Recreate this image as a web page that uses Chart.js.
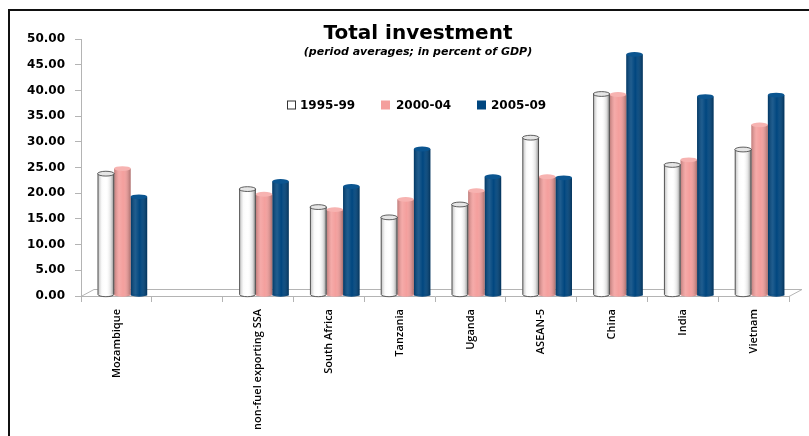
<!DOCTYPE html>
<html>
<head>
<meta charset="utf-8">
<script src="https://cdn.jsdelivr.net/npm/chart.js@4.4.1/dist/chart.umd.min.js"></script>
<style>
  html, body { margin: 0; padding: 0; background: #fff; }
  #chart { display: block; }
</style>
</head>
<body>
<canvas id="chart" width="809" height="436"></canvas>
<script>
const categories = [
  "Mozambique", "", "non-fuel exporting SSA", "South Africa", "Tanzania",
  "Uganda", "ASEAN-5", "China", "India", "Vietnam"
];
const seriesNames = ["1995-99", "2000-04", "2005-09"];
const avg1995 = [23.8, null, 20.8, 17.3, 15.3, 17.8, 30.8, 39.3, 25.5, 28.5];
const avg2000 = [24.8, null, 19.8, 16.8, 18.8, 20.5, 23.2, 39.2, 26.5, 33.3];
const avg2005 = [19.3, null, 22.3, 21.3, 28.6, 23.2, 23.0, 47.0, 38.8, 39.1];
const yTicks = [0, 5, 10, 15, 20, 25, 30, 35, 40, 45, 50];

const fills = ["#ffffff", "#f49f9d", "#00467f"];
const tops = ["#e6e6e6", "#f7b3b1", "#0b5590"];
const shiftX = 6; // bars sit slightly right of the category centre (3d depth)

const ctx = document.getElementById("chart").getContext("2d");

// floor, cylinder shading, frame, title and legend
const decor = {
  id: "decor",
  beforeDatasetsDraw(chart) {
    const { ctx, chartArea: a } = chart;
    ctx.save();
    ctx.strokeStyle = "#b4b4b4";
    ctx.lineWidth = 1;
    ctx.beginPath();
    ctx.moveTo(a.left, a.bottom + 0.5);
    ctx.lineTo(a.left + 13, a.bottom - 6.5);
    ctx.lineTo(a.right + 13, a.bottom - 6.5);
    ctx.lineTo(a.right, a.bottom + 0.5);
    ctx.stroke();
    ctx.restore();
    ctx.save();
    ctx.translate(shiftX, 0);
  },
  afterDatasetsDraw(chart) {
    const { ctx } = chart;
    chart.data.datasets.forEach((ds, i) => {
      chart.getDatasetMeta(i).data.forEach((bar, j) => {
        if (ds.data[j] == null) return;
        const w = bar.width, l = bar.x - w / 2, r = bar.x + w / 2;
        const top = bar.y, base = bar.base - 1;
        const g = ctx.createLinearGradient(l, 0, r, 0);
        if (i === 0) {
          g.addColorStop(0, "rgba(0,0,0,0.25)");
          g.addColorStop(0.25, "rgba(0,0,0,0.02)");
          g.addColorStop(0.5, "rgba(255,255,255,0)");
          g.addColorStop(0.8, "rgba(0,0,0,0.12)");
          g.addColorStop(1, "rgba(0,0,0,0.45)");
        } else {
          g.addColorStop(0, "rgba(0,0,0,0.22)");
          g.addColorStop(0.3, "rgba(255,255,255,0.12)");
          g.addColorStop(0.55, "rgba(255,255,255,0)");
          g.addColorStop(1, "rgba(0,0,0,0.3)");
        }
        ctx.fillStyle = g;
        ctx.fillRect(l, top, w, base - top);
        // rounded bottom
        ctx.beginPath();
        ctx.ellipse(bar.x, base, w / 2, 2.2, 0, 0, Math.PI);
        ctx.fillStyle = fills[i];
        ctx.fill();
        ctx.fillStyle = g;
        ctx.fill();
        if (i === 0) {
          ctx.strokeStyle = "#3a3a3a";
          ctx.lineWidth = 0.8;
          ctx.beginPath();
          ctx.moveTo(l + 0.4, top);
          ctx.lineTo(l + 0.4, base);
          ctx.moveTo(r - 0.4, top);
          ctx.lineTo(r - 0.4, base);
          ctx.stroke();
          ctx.beginPath();
          ctx.ellipse(bar.x, base, w / 2 - 0.4, 2.2, 0, 0, Math.PI);
          ctx.stroke();
        }
        // top cap
        ctx.beginPath();
        ctx.ellipse(bar.x, top, w / 2, 2.4, 0, 0, Math.PI * 2);
        ctx.fillStyle = tops[i];
        ctx.fill();
        if (i === 0) {
          ctx.strokeStyle = "#3a3a3a";
          ctx.lineWidth = 0.8;
          ctx.stroke();
        }
      });
    });
    ctx.restore();
  },
  afterDraw(chart) {
    const { ctx } = chart;
    ctx.save();
    // frame
    ctx.strokeStyle = "#111";
    ctx.lineWidth = 2;
    ctx.beginPath();
    ctx.moveTo(9, 436);
    ctx.lineTo(9, 10);
    ctx.lineTo(809, 10);
    ctx.stroke();
    // title
    ctx.fillStyle = "#000";
    ctx.textAlign = "center";
    ctx.textBaseline = "alphabetic";
    ctx.font = "bold 20px 'DejaVu Sans'";
    ctx.fillText("Total investment", 418, 39);
    ctx.font = "italic bold 11px 'DejaVu Sans'";
    ctx.fillText("(period averages; in percent of GDP)", 418, 55);
    // legend
    const boxX = [287, 381, 477];
    const textX = [300, 396, 491];
    ctx.textAlign = "left";
    ctx.textBaseline = "middle";
    ctx.font = "bold 12px 'DejaVu Sans'";
    seriesNames.forEach((name, i) => {
      ctx.fillStyle = fills[i];
      ctx.fillRect(boxX[i], 100.5, 9, 9);
      if (i === 0) {
        ctx.strokeStyle = "#333";
        ctx.lineWidth = 1;
        ctx.strokeRect(boxX[i] + 0.5, 101, 8, 8);
      }
      ctx.fillStyle = "#000";
      ctx.fillText(name, textX[i], 105.5);
    });
    ctx.restore();
  }
};

const chart = new Chart(ctx, {
  type: "bar",
  data: {
    labels: categories,
    datasets: [
      { label: seriesNames[0], data: avg1995, backgroundColor: fills[0] },
      { label: seriesNames[1], data: avg2000, backgroundColor: fills[1] },
      { label: seriesNames[2], data: avg2005, backgroundColor: fills[2] },
    ],
  },
  options: {
    responsive: false,
    animation: false,
    layout: { padding: { left: 0, right: 20, top: 39, bottom: 0 } },
    datasets: {
      bar: { categoryPercentage: 0.7, barPercentage: 1, borderWidth: 0 },
    },
    plugins: {
      legend: { display: false },
      title: { display: false },
      tooltip: { enabled: false },
    },
    scales: {
      x: {
        afterFit: (s) => { s.height = 140; },
        grid: {
          drawOnChartArea: false,
          drawTicks: true,
          tickLength: 6,
          color: "#b4b4b4",
        },
        border: { color: "#b4b4b4" },
        ticks: {
          minRotation: 90,
          maxRotation: 90,
          autoSkip: false,
          padding: 7,
          color: "#000",
          font: { family: "'Open Sans'", size: 11, weight: "600" },
        },
      },
      y: {
        min: 0,
        max: 50,
        afterFit: (s) => { s.width = 81; },
        afterBuildTicks: (s) => { s.ticks = yTicks.map((v) => ({ value: v })); },
        grid: {
          drawOnChartArea: false,
          drawTicks: true,
          tickLength: 6,
          color: "#b4b4b4",
        },
        border: { color: "#b4b4b4" },
        ticks: {
          padding: 10,
          color: "#000",
          font: { family: "'DejaVu Sans'", size: 12, weight: "bold" },
          callback: (v) => Number(v).toFixed(2),
        },
      },
    },
  },
  plugins: [decor],
});
</script>
</body>
</html>
